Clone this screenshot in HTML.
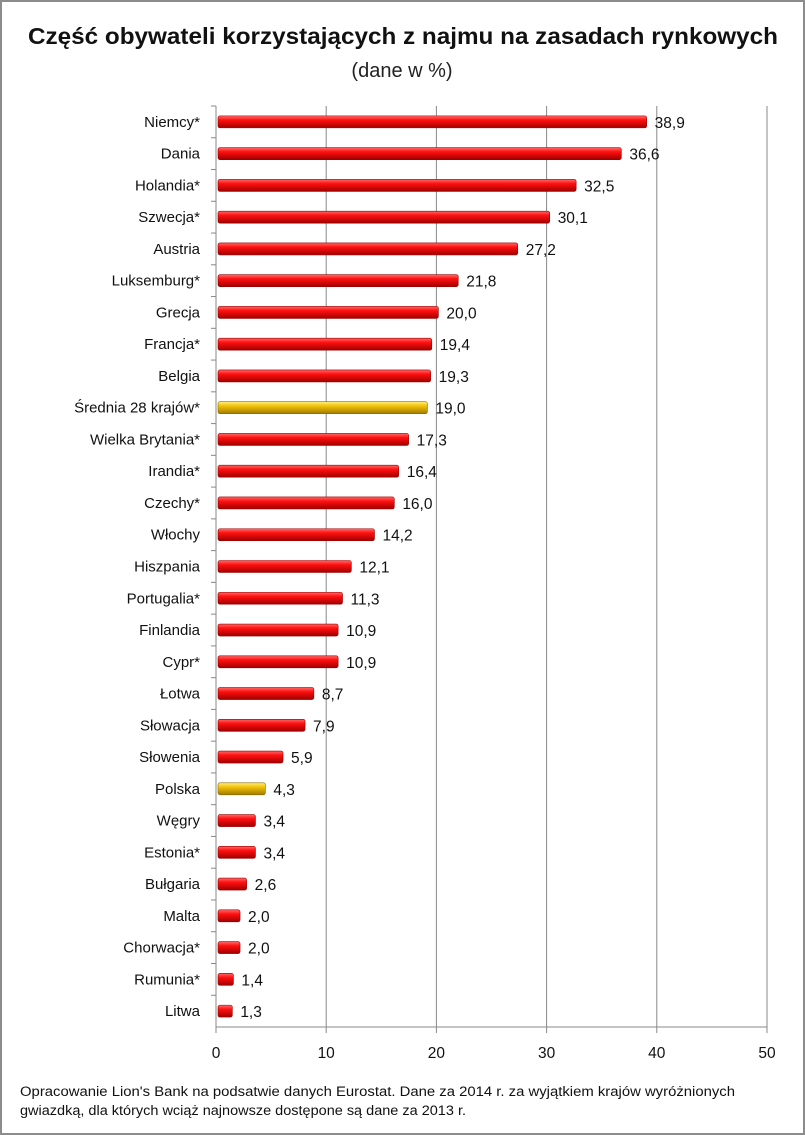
<!DOCTYPE html>
<html><head><meta charset="utf-8"><style>
body{margin:0;background:#fff;}
#wrap{position:relative;width:801px;height:1131px;border:2px solid #8c8c8c;font-family:"Liberation Sans",sans-serif;overflow:hidden;}
svg text{font-family:"Liberation Sans",sans-serif;}
</style></head><body>
<div id="wrap">
<svg id="chart" width="801" height="1131">
<defs>
<linearGradient id="gr" x1="0" y1="0" x2="0" y2="1"><stop offset="0" stop-color="#ff6a6a"/><stop offset="0.35" stop-color="#ff1010"/><stop offset="1" stop-color="#a00000"/></linearGradient>
<linearGradient id="gy" x1="0" y1="0" x2="0" y2="1"><stop offset="0" stop-color="#fff07a"/><stop offset="0.35" stop-color="#f2c20a"/><stop offset="1" stop-color="#a07a00"/></linearGradient>
</defs>
<text x="26" y="42" textLength="750" lengthAdjust="spacingAndGlyphs" font-size="23" font-weight="bold" fill="#111">Część obywateli korzystających z najmu na zasadach rynkowych</text>
<text x="400" y="75" text-anchor="middle" font-size="20" fill="#222">(dane w %)</text>
<g id="grid"></g><g id="bars"></g><g id="axes"></g>
<text x="18" y="1094" textLength="715" lengthAdjust="spacingAndGlyphs" font-size="13.5" fill="#111">Opracowanie Lion's Bank na podsatwie danych Eurostat. Dane za 2014 r. za wyjątkiem krajów wyróżnionych</text>
<text x="18" y="1113" textLength="446" lengthAdjust="spacingAndGlyphs" font-size="13.5" fill="#111">gwiazdką, dla których wciąż najnowsze dostępone są dane za 2013 r.</text>
</svg>
</div>
<script>
const categories=["Niemcy*","Dania","Holandia*","Szwecja*","Austria","Luksemburg*","Grecja","Francja*","Belgia","Średnia 28 krajów*","Wielka Brytania*","Irandia*","Czechy*","Włochy","Hiszpania","Portugalia*","Finlandia","Cypr*","Łotwa","Słowacja","Słowenia","Polska","Węgry","Estonia*","Bułgaria","Malta","Chorwacja*","Rumunia*","Litwa"];
const values=[38.9,36.6,32.5,30.1,27.2,21.8,20.0,19.4,19.3,19.0,17.3,16.4,16.0,14.2,12.1,11.3,10.9,10.9,8.7,7.9,5.9,4.3,3.4,3.4,2.6,2.0,2.0,1.4,1.3];
const highlighted=["Średnia 28 krajów*","Polska"];
const xTicks=[0,10,20,30,40,50];
const NS="http://www.w3.org/2000/svg";
const x0=214,x1=765,yTop=104,yBot=1025;
const xs=v=>x0+(v-0)/(50-0)*(x1-x0);
const band=(yBot-yTop)/categories.length;
const yc=i=>yTop+band*(i+0.5);
function mk(t,a,p){const e=document.createElementNS(NS,t);for(const k in a)e.setAttribute(k,a[k]);p.appendChild(e);return e;}
const grid=document.getElementById('grid'),bars=document.getElementById('bars'),axes=document.getElementById('axes');
xTicks.forEach(t=>{
 const l=mk('line',{x1:xs(t),x2:xs(t),y1:yTop,y2:yBot+6,stroke:'#888','stroke-width':1},grid);
 
 
 const tx=mk('text',{x:xs(t),y:yBot+31,'text-anchor':'middle','font-size':15.5,fill:'#111'},axes);
 tx.textContent=t;
 
 
});
const ax=mk('line',{x1:x0,x2:x1,y1:yBot,y2:yBot,stroke:'#888'},axes);


const ay=mk('line',{x1:x0,x2:x0,y1:yTop,y2:yBot,stroke:'#888'},axes);


categories.forEach((c,i)=>{
 const y=yc(i),v=values[i],hl=highlighted.includes(c);
 const tk=mk('line',{x1:x0-5,x2:x0,y1:yTop+band*i,y2:yTop+band*i,stroke:'#888'},axes);
 
 
 const lb=mk('text',{x:x0-16,y:y+5,'text-anchor':'end','font-size':15,fill:'#111'},axes);
 lb.textContent=c;
 
 
 const w=xs(v)-x0;
 const r=mk('rect',{x:x0+2,y:y-6,width:w,height:12,rx:2,fill:hl?'url(#gy)':'url(#gr)',stroke:hl?'#8a6a00':'#900','stroke-width':0.6},bars);
 
 
 const vt=mk('text',{x:x0+w+10,y:y+6,'font-size':15.5,fill:'#111'},bars);
 vt.textContent=v.toFixed(1).replace('.',',');
 
 
});
</script>
</body></html>
